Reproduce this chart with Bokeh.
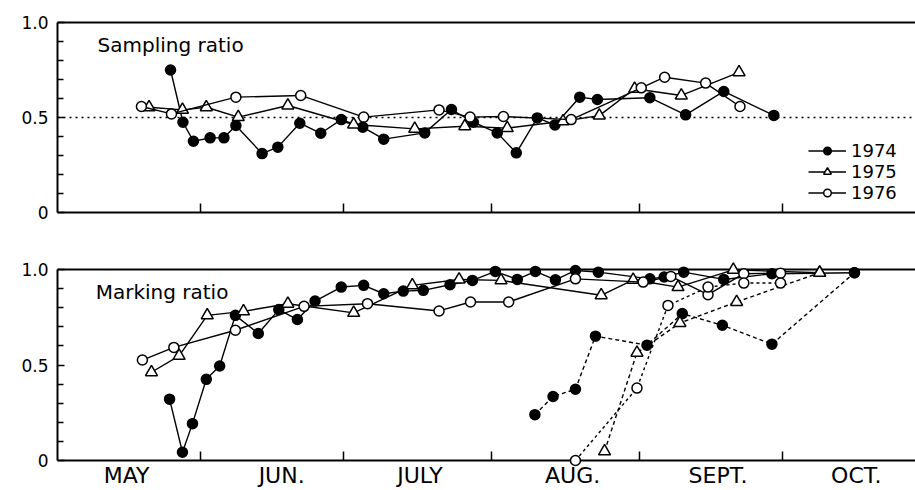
from bokeh.plotting import figure
from bokeh.models import Range1d, FixedTicker, LinearAxis, Span, Label, Legend, LegendItem
from bokeh.layouts import column
from bokeh.embed import file_html
from bokeh.resources import INLINE

# x values: days counted from May 1 (May 1 = 0)
month_starts = [31, 61, 92, 123, 153]
month_label_pos = [15.5, 48, 77, 109, 139.5, 168.5]
month_labels = ["MAY", "JUN.", "JULY", "AUG.", "SEPT.", "OCT."]
y_ticks = [0, 0.5, 1.0]
y_tick_labels = ["0", "0.5", "1.0"]
y_minor_ticks = [0.1, 0.2, 0.3, 0.4, 0.6, 0.7, 0.8, 0.9]

# ---- Sampling ratio ----
samp_1974_day = [24.7, 27.3, 29.5, 33.0, 35.9, 38.4, 43.9, 47.2, 51.8, 56.2, 60.5, 65.0, 69.4,
                 78.0, 83.6, 88.2, 93.2, 97.2, 101.6, 105.3, 110.5, 114.2, 125.2, 132.7, 140.7, 151.2]
samp_1974_val = [0.75, 0.475, 0.375, 0.393, 0.393, 0.458, 0.31, 0.344, 0.47, 0.417, 0.489, 0.449, 0.386,
                 0.419, 0.542, 0.475, 0.419, 0.314, 0.498, 0.461, 0.607, 0.595, 0.604, 0.514, 0.637, 0.511]

samp_1975_day = [20.2, 27.2, 32.2, 38.9, 49.3, 63.1, 75.9, 86.4, 95.3, 107.0, 114.6, 122.0, 131.8, 143.9]
samp_1975_val = [0.554, 0.54, 0.554, 0.502, 0.563, 0.463, 0.44, 0.454, 0.444, 0.48, 0.51, 0.651, 0.616, 0.738]

samp_1976_day = [18.6, 24.9, 38.4, 52.0, 65.2, 81.0, 87.5, 94.5, 108.7, 123.4, 128.3, 136.9, 144.1]
samp_1976_val = [0.558, 0.519, 0.607, 0.616, 0.502, 0.54, 0.502, 0.505, 0.489, 0.656, 0.712, 0.681, 0.558]

sampling_reference = 0.5

# ---- Marking ratio (solid lines) ----
mark_1974_day = [24.5, 27.2, 29.3, 32.2, 35.0, 38.3, 43.1, 47.4, 51.3, 55.0, 60.5, 65.2, 69.4, 73.5, 77.7,
                 83.3, 88.0, 92.8, 97.4, 101.2, 105.4, 109.6, 114.4, 125.2, 128.2, 132.3, 140.7, 150.8, 168.1]
mark_1974_val = [0.321, 0.043, 0.193, 0.425, 0.495, 0.76, 0.665, 0.79, 0.738, 0.835, 0.908, 0.917, 0.873, 0.887, 0.891,
                 0.92, 0.943, 0.99, 0.948, 0.99, 0.946, 0.995, 0.986, 0.951, 0.961, 0.986, 0.948, 0.978, 0.983]

mark_1975_day = [20.7, 26.5, 32.4, 40.0, 49.3, 63.1, 75.4, 85.2, 94.0, 115.0, 121.7, 131.1, 142.7, 160.8]
mark_1975_val = [0.462, 0.548, 0.76, 0.781, 0.821, 0.773, 0.917, 0.948, 0.943, 0.865, 0.946, 0.908, 0.998, 0.983]

mark_1976_day = [18.8, 25.4, 38.3, 52.7, 66.0, 81.0, 87.6, 95.6, 109.6, 123.8, 129.6, 137.4, 144.9, 152.6]
mark_1976_val = [0.526, 0.592, 0.682, 0.807, 0.821, 0.783, 0.83, 0.83, 0.951, 0.934, 0.964, 0.868, 0.978, 0.981]

# ---- Marking ratio (dashed lines) ----
mark2_1974_day = [101.1, 104.9, 109.6, 113.8, 124.6, 132.0, 140.4, 150.8, 168.1]
mark2_1974_val = [0.24, 0.335, 0.373, 0.651, 0.604, 0.769, 0.708, 0.609, 0.983]

mark2_1975_day = [115.7, 122.5, 131.5, 143.4, 160.8]
mark2_1975_val = [0.048, 0.564, 0.72, 0.83, 0.983]

mark2_1976_day = [109.6, 122.5, 129.0, 137.4, 144.9, 152.6]
mark2_1976_val = [0.0, 0.379, 0.812, 0.908, 0.929, 0.929]

years = ["1974", "1975", "1976"]

FONT = "DejaVu Sans"
INK = "black"


def make_fig(height, top, bottom, show_month_labels):
    p = figure(width=915, height=height, x_range=Range1d(1.0, 180.9), y_range=Range1d(0, 1),
               output_backend="svg", toolbar_location=None,
               min_border_left=57, min_border_right=0, min_border_top=top, min_border_bottom=bottom,
               outline_line_color=None, background_fill_color="white", border_fill_color="white")
    p.grid.visible = False

    xa = p.xaxis[0]
    if show_month_labels:
        xa.ticker = FixedTicker(ticks=month_label_pos, minor_ticks=month_starts)
        xa.major_label_overrides = {pos: lab for pos, lab in zip(month_label_pos, month_labels)}
        xa.major_label_text_font = FONT
        xa.major_label_text_font_size = "22px"
        xa.major_label_text_color = INK
        xa.major_label_standoff = 2
    else:
        xa.ticker = FixedTicker(ticks=[], minor_ticks=month_starts)
        xa.major_label_standoff = 0
    xa.major_tick_in = 0
    xa.major_tick_out = 0
    xa.minor_tick_in = 9
    xa.minor_tick_out = 0
    xa.minor_tick_line_width = 1.5
    xa.minor_tick_line_color = INK
    xa.axis_line_width = 2
    xa.axis_line_color = INK

    ya = p.yaxis[0]
    ya.ticker = FixedTicker(ticks=y_ticks, minor_ticks=y_minor_ticks)
    ya.major_label_overrides = {t: s for t, s in zip(y_ticks, y_tick_labels)}
    ya.major_label_text_font = FONT
    ya.major_label_text_font_size = "17px"
    ya.major_label_text_color = INK
    ya.major_label_standoff = 9
    ya.major_tick_in = 7
    ya.major_tick_out = 0
    ya.minor_tick_in = 6
    ya.minor_tick_out = 0
    ya.major_tick_line_width = 1.5
    ya.minor_tick_line_width = 1.5
    ya.major_tick_line_color = INK
    ya.minor_tick_line_color = INK
    ya.axis_line_width = 2
    ya.axis_line_color = INK

    top_axis = LinearAxis(ticker=FixedTicker(ticks=[]), major_label_standoff=0,
                          major_tick_line_color=None, minor_tick_line_color=None,
                          axis_line_width=2, axis_line_color=INK)
    p.add_layout(top_axis, "above")
    return p


def add_series(p, xs, ys, marker, filled, dash="solid"):
    ln = p.line(xs, ys, line_color=INK, line_width=1.4, line_dash=dash, level="overlay")
    size = 12 if marker == "triangle" else 10
    sc = p.scatter(xs, ys, marker=marker, size=size,
                   fill_color=INK if filled else "white", line_color=INK, line_width=1.5,
                   level="overlay")
    return ln, sc


# ---------- top panel ----------
p1 = make_fig(240, 22, 28, False)
p1.add_layout(Span(location=sampling_reference, dimension="width", line_color=INK,
                   line_width=1.5, line_dash="2 4"))
r74 = add_series(p1, samp_1974_day, samp_1974_val, "circle", True)
r75 = add_series(p1, samp_1975_day, samp_1975_val, "triangle", False)
r76 = add_series(p1, samp_1976_day, samp_1976_val, "circle", False)
p1.add_layout(Label(x=9.4, y=0.879, text="Sampling  ratio", text_font=FONT, text_font_size="20px",
                    text_color=INK, text_baseline="middle", text_align="left"))

legend = Legend(items=[LegendItem(label=years[0], renderers=list(r74)),
                       LegendItem(label=years[1], renderers=list(r75)),
                       LegendItem(label=years[2], renderers=list(r76))],
                location=(751, 9), orientation="vertical",
                glyph_width=38, glyph_height=19, label_height=19, spacing=0,
                label_standoff=5, padding=0, margin=0,
                label_text_font=FONT, label_text_font_size="18px", label_text_color=INK,
                border_line_color=None, background_fill_alpha=0)
p1.add_layout(legend)

# ---------- bottom panel ----------
p2 = make_fig(250, 29, 29, True)
add_series(p2, mark_1974_day, mark_1974_val, "circle", True)
add_series(p2, mark_1975_day, mark_1975_val, "triangle", False)
add_series(p2, mark_1976_day, mark_1976_val, "circle", False)
add_series(p2, mark2_1974_day, mark2_1974_val, "circle", True, "4 3")
add_series(p2, mark2_1975_day, mark2_1975_val, "triangle", False, "4 3")
add_series(p2, mark2_1976_day, mark2_1976_val, "circle", False, "3 3")
p2.add_layout(Label(x=9.0, y=0.88, text="Marking  ratio", text_font=FONT, text_font_size="20px",
                    text_color=INK, text_baseline="middle", text_align="left"))

layout = column(p1, p2, spacing=0)
open("out.html", "w").write(file_html(layout, INLINE))
